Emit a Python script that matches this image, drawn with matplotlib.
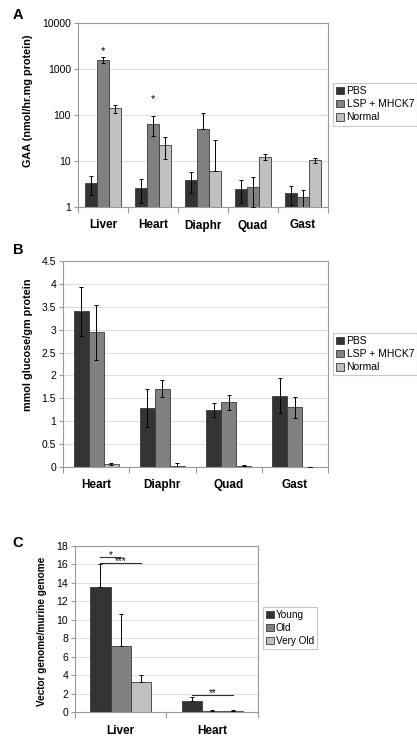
import numpy as np
import matplotlib
matplotlib.use("Agg")
import matplotlib.pyplot as plt
from matplotlib.patches import Patch

plt.rcParams['font.family'] = ['Liberation Sans', 'DejaVu Sans']

# ---- panel A: GAA activity (log scale)
tissues_a = ["Liver", "Heart", "Diaphr", "Quad", "Gast"]
groups_a = ["PBS", "LSP + MHCK7", "Normal"]
gaa_pbs = [3.3, 2.6, 3.9, 2.5, 2.0]
gaa_pbs_err = [1.5, 1.4, 1.9, 1.3, 0.9]
gaa_lsp = [1600, 65, 50, 2.7, 1.65]
gaa_lsp_err = [230, 30, 58, 1.7, 0.7]
gaa_norm = [140, 22, 6.2, 12.5, 10.5]
gaa_norm_err = [28, 11, 22, 1.8, 1.3]
stars_a = [(0, 2400, "*"), (1, 220, "*")]  # (tissue, y, text) over LSP bar

# ---- panel B: glycogen
tissues_b = ["Heart", "Diaphr", "Quad", "Gast"]
glc_pbs = [3.40, 1.29, 1.24, 1.56]
glc_pbs_err = [0.53, 0.41, 0.15, 0.38]
glc_lsp = [2.94, 1.71, 1.41, 1.30]
glc_lsp_err = [0.60, 0.18, 0.17, 0.24]
glc_norm = [0.06, 0.02, 0.03, 0.005]
glc_norm_err = [0.02, 0.07, 0.01, 0.0]

# ---- panel C: vector genomes
tissues_c = ["Liver", "Heart"]
groups_c = ["Young", "Old", "Very Old"]
vg_young = [13.6, 1.2]
vg_young_err = [2.4, 0.45]
vg_old = [7.2, 0.15]
vg_old_err = [3.4, 0.1]
vg_vold = [3.3, 0.15]
vg_vold_err = [0.7, 0.05]
sig_c = [(0, 0, 1, 16.85, "*"), (0, 0, 2, 16.2, "***"), (1, 0, 2, 1.85, "**")]

colors = ["#333333", "#808080", "#c0c0c0"]
edge = "#3a3a3a"
spine_col = "#9a9a9a"
grid_col = "#dedede"

W, H = 417, 738
fig = plt.figure(figsize=(W / 100, H / 100), dpi=100)


def px_axes(l, t, r, b):
    return fig.add_axes([l / W, 1 - b / H, (r - l) / W, (b - t) / H])


def style(ax, cats, fs_cat=8.5):
    n = len(cats)
    ax.set_xlim(-0.5, n - 0.5)
    ax.set_xticks(np.arange(n + 1) - 0.5)
    ax.set_xticklabels([])
    ax.set_xticks(np.arange(n), minor=True)
    ax.set_xticklabels(cats, minor=True, fontsize=fs_cat, fontweight="bold")
    ax.tick_params(axis="x", which="major", length=4, color=spine_col, width=0.8)
    ax.tick_params(axis="x", which="minor", length=0, pad=9)
    ax.tick_params(axis="y", which="major", length=3, color=spine_col, width=0.8,
                   labelsize=7.5, pad=2)
    ax.tick_params(axis="y", which="minor", length=0)
    for s in ax.spines.values():
        s.set_color(spine_col)
        s.set_linewidth(0.8)
    ax.yaxis.grid(True, color=grid_col, linewidth=0.8)
    ax.set_axisbelow(True)


def draw_bars(ax, series, errs, w, plus_only=False, log=False):
    x = np.arange(len(series[0]))
    for k, (vals, err) in enumerate(zip(series, errs)):
        xs = x + (k - 1) * w
        ax.bar(xs, vals, width=w, color=colors[k], edgecolor=edge, linewidth=0.6,
               zorder=2)
        vals = np.array(vals, dtype=float)
        err = np.array(err, dtype=float)
        if plus_only:
            lo = np.zeros_like(err)
        elif log:
            lo = np.where(vals - err > 0, err, 0)
        else:
            lo = err
        ax.errorbar(xs, vals, yerr=[lo, err], fmt="none", ecolor="black",
                    elinewidth=0.7, capsize=1.5, capthick=0.7, zorder=3)


def legend(labels, x, y, fs):
    handles = [Patch(facecolor=colors[k], edgecolor=edge, linewidth=0.6)
               for k in range(3)]
    lg = fig.legend(handles, labels, loc="upper left",
                    bbox_to_anchor=(x / W, 1 - y / H), borderaxespad=0,
                    fontsize=fs, handlelength=0.75, handleheight=0.75,
                    handletextpad=0.25, labelspacing=0.3, borderpad=0.3,
                    fancybox=False, framealpha=1)
    lg.get_frame().set_edgecolor("#c8c8c8")
    lg.get_frame().set_linewidth(0.8)


# Panel A
axA = px_axes(78, 23, 328, 207)
axA.set_yscale("log")
wa = 0.235
draw_bars(axA, [gaa_pbs, gaa_lsp, gaa_norm],
          [gaa_pbs_err, gaa_lsp_err, gaa_norm_err], wa, log=True)
axA.set_ylim(1, 10000)
style(axA, tissues_a)
axA.set_yticks([1, 10, 100, 1000, 10000])
axA.set_yticklabels(["1", "10", "100", "1000", "10000"])
axA.yaxis.set_minor_locator(matplotlib.ticker.NullLocator())
axA.set_ylabel("GAA (nmol/hr.mg protein)", fontsize=7.8, fontweight="bold")
axA.yaxis.set_label_coords(-0.18, 0.576)
for i, yv, t in stars_a:
    axA.text(i, yv, t, ha="center", va="center", fontsize=8)
legend(groups_a, 333, 83, 7.5)

# Panel B
axB = px_axes(63, 261, 328, 467)
wb = 0.227
draw_bars(axB, [glc_pbs, glc_lsp, glc_norm],
          [glc_pbs_err, glc_lsp_err, glc_norm_err], wb)
axB.set_ylim(0, 4.5)
axB.set_yticks(np.arange(0, 4.51, 0.5))
axB.set_yticklabels(["0", "0.5", "1", "1.5", "2", "2.5", "3", "3.5", "4", "4.5"])
style(axB, tissues_b)
axB.set_ylabel("mmol glucose/gm protein", fontsize=7.8, fontweight="bold")
axB.yaxis.set_label_coords(-0.113, 0.592)
legend(groups_a, 333, 333, 7.5)

# Panel C
axC = px_axes(75, 546, 258, 712)
wc = 0.222
draw_bars(axC, [vg_young, vg_old, vg_vold],
          [vg_young_err, vg_old_err, vg_vold_err], wc, plus_only=True)
axC.set_ylim(0, 18)
axC.set_yticks(np.arange(0, 19, 2))
style(axC, tissues_c)
axC.set_ylabel("Vector genome/murine genome", fontsize=7.2, fontweight="bold")
axC.yaxis.set_label_coords(-0.155, 0.488)
for cat, g1, g2, yv, t in sig_c:
    x1 = cat + (g1 - 1) * wc
    x2 = cat + (g2 - 1) * wc
    axC.plot([x1, x2], [yv, yv], color="#333333", lw=0.8, zorder=4)
    axC.text((x1 + x2) / 2, yv - 0.35, t, ha="center", va="bottom", fontsize=7)
legend(groups_c, 263, 607, 7.2)

# panel letters
for lab, x, y in [("A", 18, 15), ("B", 18, 250), ("C", 18, 543)]:
    fig.text(x / W, 1 - y / H, lab, fontsize=10.5, fontweight="bold",
             ha="center", va="center")

fig.savefig("out.png", dpi=100)
